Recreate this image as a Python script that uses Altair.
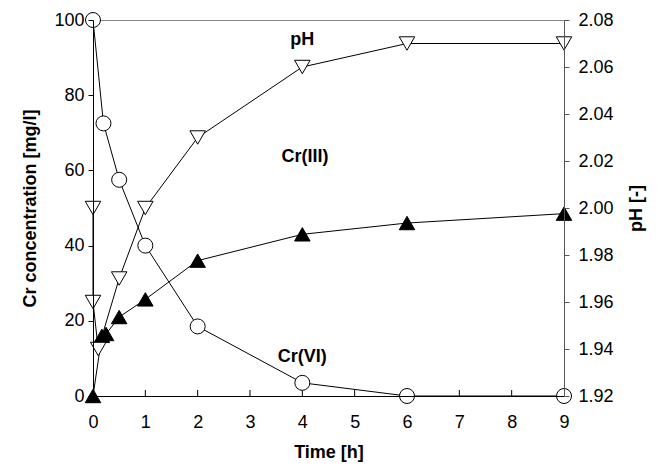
import altair as alt
import pandas as pd

# Data
cr6_t = [0, 0.2, 0.5, 1, 2, 4, 6, 9]
cr6_v = [100, 72.5, 57.5, 40, 18.5, 3.5, 0, 0]

cr3_t = [0, 0.17, 0.25, 0.5, 1, 2, 4, 6, 9]
cr3_v = [0, 16, 16.5, 21, 25.7, 36, 43, 46, 48.5]

ph_t = [0, 0, 0.1, 0.5, 1, 2, 4, 6, 9]
ph_v = [2.00, 1.96, 1.94, 1.97, 2.00, 2.03, 2.06, 2.07, 2.07]

x_ticks = [0, 1, 2, 3, 4, 5, 6, 7, 8, 9]
left_ticks = [0, 20, 40, 60, 80, 100]
right_ticks = [1.92, 1.94, 1.96, 1.98, 2.00, 2.02, 2.04, 2.06, 2.08]

lab_text = ["pH", "Cr(III)", "Cr(VI)"]
lab_t = [4, 4.05, 4]
lab_v = [94.7, 63.5, 10.5]

W, H = 471, 376
FONT = "Liberation Sans"

cr6 = pd.DataFrame({"t": cr6_t, "v": cr6_v, "o": range(len(cr6_t))})
cr3 = pd.DataFrame({"t": cr3_t, "v": cr3_v, "o": range(len(cr3_t))})
ph = pd.DataFrame({"t": ph_t, "p": ph_v, "o": range(len(ph_t))})
labs = pd.DataFrame({"text": lab_text, "t": lab_t, "v": lab_v})
ticks = pd.DataFrame({"t": x_ticks})

xscale = alt.Scale(domain=[0, 9], nice=False, zero=False)
xaxis = alt.Axis(values=x_ticks, title="Time [h]", tickSize=0, labelPadding=17,
                 labelFlush=False, titlePadding=12, grid=False, domainColor="black",
                 format="d", zindex=1)
X = alt.X("t:Q", scale=xscale, axis=xaxis)

yscale = alt.Scale(domain=[0, 100], nice=False)
yaxis = alt.Axis(values=left_ticks, title="Cr concentration [mg/l]", tickSize=5,
                 labelPadding=4, titlePadding=14, grid=False, domainColor="black",
                 tickColor="black", zindex=1)
Y = alt.Y("v:Q", scale=yscale, axis=yaxis)

inticks = alt.Chart(ticks).mark_rule(color="black", strokeWidth=1).encode(
    x=X, y=alt.value(H), y2=alt.value(H - 6))
line6 = alt.Chart(cr6).mark_line(color="black", strokeWidth=1).encode(x=X, y=Y, order="o:Q")
line3 = alt.Chart(cr3).mark_line(color="black", strokeWidth=1).encode(x=X, y=Y, order="o:Q")
pts6 = alt.Chart(cr6).mark_point(shape="circle", size=225, filled=True, fill="white",
                                 stroke="black", strokeWidth=1, opacity=1).encode(x=X, y=Y)
pts3 = alt.Chart(cr3).mark_point(shape="triangle-up", size=240, filled=True, fill="black",
                                 stroke="black", strokeWidth=1, opacity=1).encode(x=X, y=Y)
texts = alt.Chart(labs).mark_text(font=FONT, fontSize=18, fontWeight="bold",
                                  color="black").encode(x=X, y=Y, text="text:N")

left = alt.layer(inticks, line6, line3, pts6, pts3, texts)

pscale = alt.Scale(domain=[1.92, 2.08], nice=False, zero=False)
paxis = alt.Axis(values=right_ticks, title="pH [-]", orient="right", format=".2f",
                 tickSize=5, labelPadding=9, titlePadding=14, titleAngle=270,
                 titleBaseline="top", grid=False, domainColor="#555555",
                 tickColor="#555555", zindex=1)
P = alt.Y("p:Q", scale=pscale, axis=paxis)

phline = alt.Chart(ph).mark_line(color="black", strokeWidth=1).encode(x=X, y=P, order="o:Q")
phpts = alt.Chart(ph).mark_point(shape="triangle-down", size=240, filled=True, fill="white",
                                 stroke="black", strokeWidth=1, opacity=1).encode(x=X, y=P)
right = alt.layer(phline, phpts)

chart = alt.layer(left, right).resolve_scale(y="independent").properties(
    width=W, height=H,
    autosize=alt.AutoSizeParams(type="none"),
    padding={"left": 85, "top": 12, "right": 99, "bottom": 66},
    background="white",
).configure_view(stroke="#888888", strokeWidth=1).configure_axis(
    labelFont=FONT, labelFontSize=18, labelColor="black",
    titleFont=FONT, titleFontSize=18, titleFontWeight="bold", titleColor="black",
)

chart.save("out.html", embed_options={"renderer": "svg", "actions": False})
